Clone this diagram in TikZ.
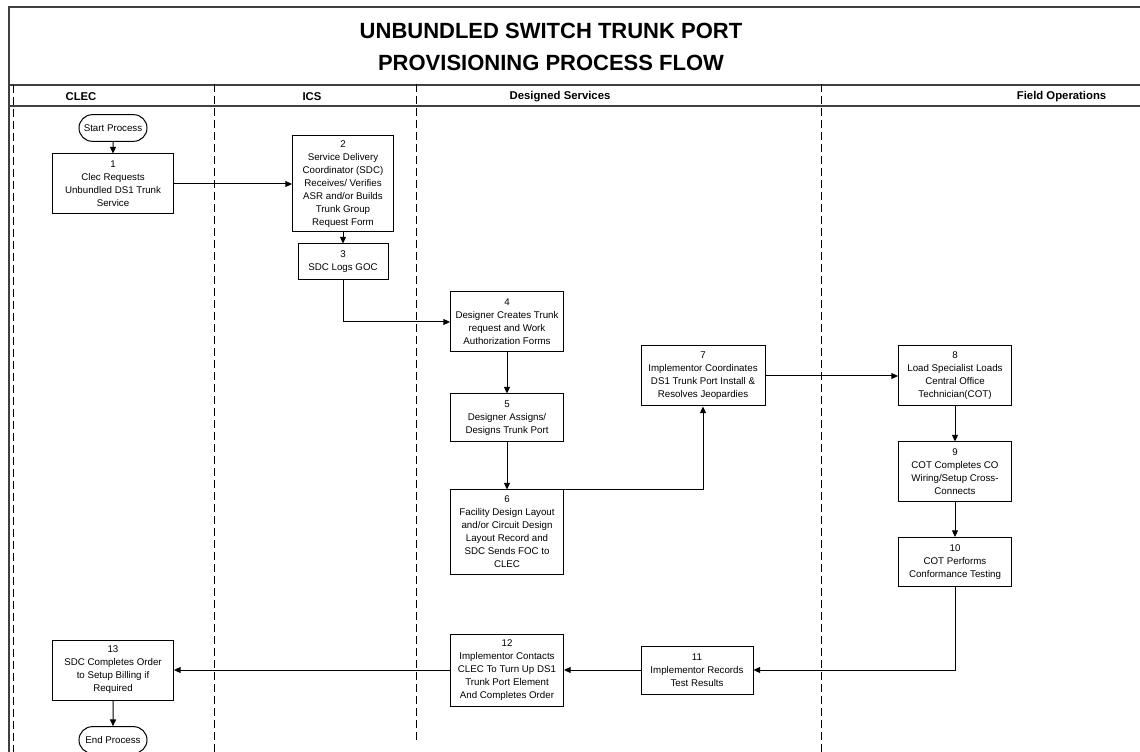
\documentclass[tikz,border=0pt]{standalone}
\usepackage{fontspec}
\setmainfont{Liberation Sans}
\usepackage{tikz}
\usetikzlibrary{arrows.meta,shapes.misc}
\tikzset{
  stepbox/.style   = {draw,line width=0.75pt,align=center,inner sep=0pt,
                      font=\fontsize{7.3}{9.75}\selectfont},
  termbox/.style   = {draw,rounded rectangle,line width=0.75pt,inner sep=0pt,
                      minimum width=51pt,minimum height=20pt,
                      font=\fontsize{7.3}{9}\selectfont},
  flowarr/.style   = {-{Triangle[length=5pt,width=4.5pt]},line width=0.75pt},
  laneline/.style  = {dash pattern=on 6pt off 3pt,line width=0.75pt},
  frameline/.style = {line width=1pt,black!75},
  lanelabel/.style = {font=\fontsize{8.5}{10}\selectfont\bfseries}
}
\newcommand{\flowbox}[6]{%
  \node[stepbox,minimum width=#4*0.75pt,minimum height=#5*0.75pt] (#1) at (#2,#3) {#6};
}

\begin{document}
\begin{tikzpicture}[x=0.75pt,y=-0.75pt]
  \useasboundingbox (0,0) rectangle (1140,752);
  \draw[frameline] (1140,7) -- (9,7) -- (9,752);
  \draw[frameline] (9,85) -- (1140,85);
  \draw[frameline] (9,106) -- (1140,106);
  \draw[laneline] (13,85) -- (13,752);
  \draw[laneline] (214,84) -- (214,752);
  \draw[laneline] (416,84) -- (416,743);
  \draw[laneline] (821,84) -- (821,752);

  \node[font=\fontsize{16.5}{24}\selectfont\bfseries,align=center] (title) at (551,47)
    {UNBUNDLED SWITCH TRUNK PORT\\PROVISIONING PROCESS FLOW};
  \node[lanelabel] (clec) at (81,97) {CLEC};
  \node[lanelabel] (ics) at (312,97) {ICS};
  \node[lanelabel] (dsvc) at (560,97) {Designed Services};
  \node[lanelabel,anchor=east] (fops) at (1111,97) {Field Operations};

  \node[termbox] (start) at (113,128) {Start Process};
  \flowbox{s1}{113}{184}{121}{60}{1\\Clec Requests\\Unbundled DS1 Trunk\\Service}
  \flowbox{s2}{343}{184}{101}{96}{2\\Service Delivery\\Coordinator (SDC)\\Receives/ Verifies\\ASR and/or Builds\\Trunk Group\\Request Form}
  \flowbox{s3}{343}{262}{90}{36}{3\\SDC Logs GOC}
  \flowbox{s4}{507}{322}{113}{60}{4\\Designer Creates Trunk\\request and Work\\Authorization Forms}
  \flowbox{s5}{507}{418}{113}{48}{5\\Designer Assigns/\\Designs Trunk Port}
  \flowbox{s6}{507}{532}{113}{84}{6\\Facility Design Layout\\and/or Circuit Design\\Layout Record and\\SDC Sends FOC to\\CLEC}
  \flowbox{s7}{703}{376}{124}{60}{7\\Implementor Coordinates\\DS1 Trunk Port Install \&\\Resolves Jeopardies}
  \flowbox{s8}{955}{376}{113}{60}{8\\Load Specialist Loads\\Central Office\\Technician(COT)}
  \flowbox{s9}{955}{472}{113}{60}{9\\COT Completes CO\\Wiring/Setup Cross-\\Connects}
  \flowbox{s10}{955}{562}{113}{49}{10\\COT Performs\\Conformance Testing}
  \flowbox{s11}{697}{670}{112}{48}{11\\Implementor Records\\Test Results}
  \flowbox{s12}{507}{670}{113}{72}{12\\Implementor Contacts\\CLEC To Turn Up DS1\\Trunk Port Element\\And Completes Order}
  \flowbox{s13}{113}{670}{121}{60}{13\\SDC Completes Order\\to Setup Billing if\\Required}
  \node[termbox] (finish) at (113,740) {End Process};

  \draw[flowarr] (start) -- (s1);
  \draw[flowarr] (s1) -- (s2);
  \draw[flowarr] (s2) -- (s3);
  \draw[flowarr] (s3.south) |- (s4.west);
  \draw[flowarr] (s4) -- (s5);
  \draw[flowarr] (s5) -- (s6);
  \draw[flowarr] (s6.north east) -| (s7.south);
  \draw[flowarr] (s7) -- (s8);
  \draw[flowarr] (s8) -- (s9);
  \draw[flowarr] (s9) -- (s10);
  \draw[flowarr] (s10.south) |- (s11.east);
  \draw[flowarr] (s11) -- (s12);
  \draw[flowarr] (s12) -- (s13);
  \draw[flowarr] (s13) -- (finish);
\end{tikzpicture}
\end{document}
